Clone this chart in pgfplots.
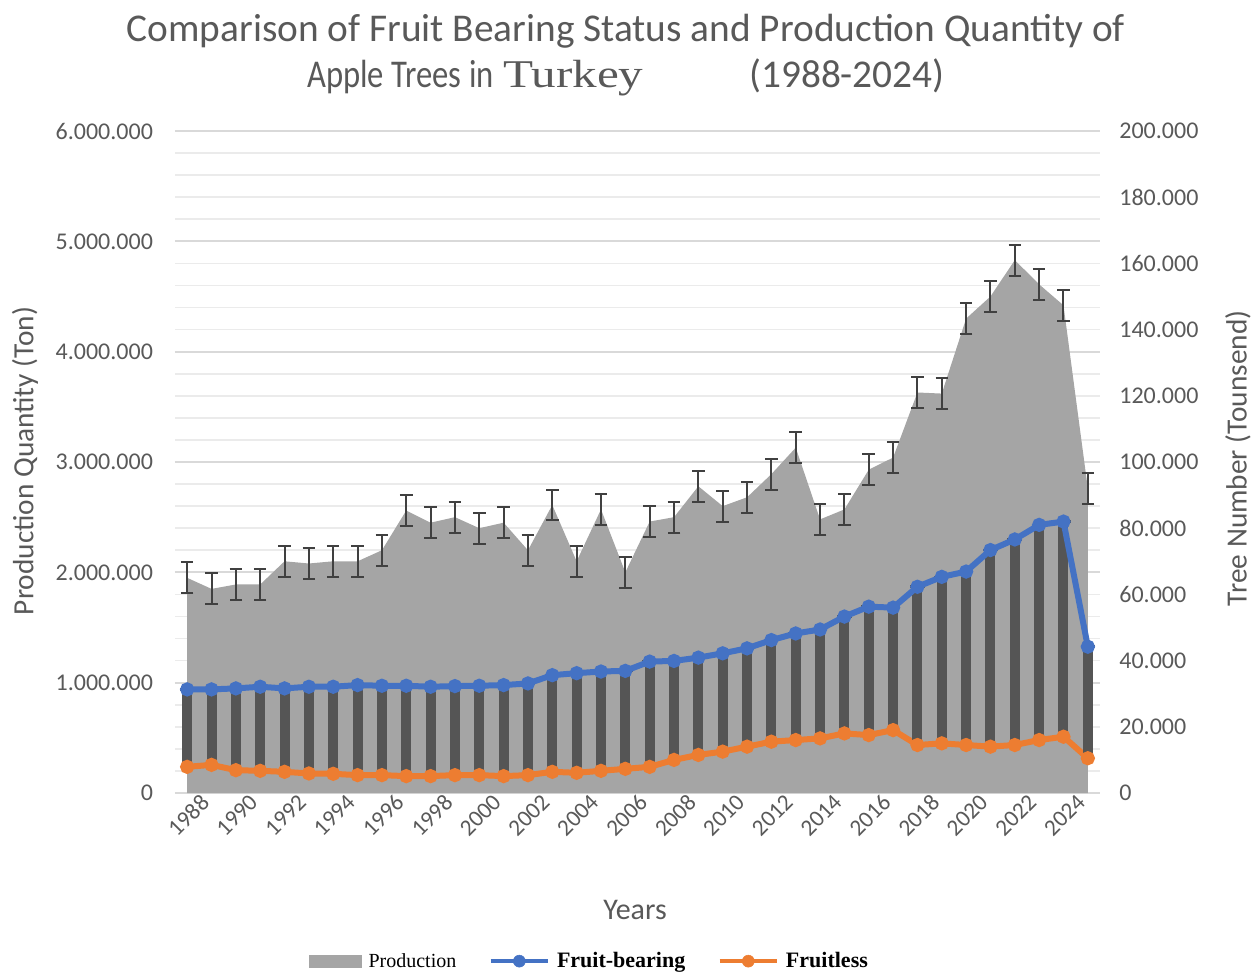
\documentclass[border=0pt]{standalone}
\usepackage{pgfplots}
\pgfplotsset{compat=1.18}
\usepackage{pgfplotstable}
\usepackage{fontspec}
\setmainfont{Carlito}
\newfontfamily\serif{Liberation Serif}
\definecolor{areagray}{HTML}{A5A5A5}
\definecolor{bardark}{HTML}{555555}
\definecolor{errgray}{HTML}{404040}
\definecolor{fbblue}{HTML}{4472C4}
\definecolor{florange}{HTML}{ED7D31}
\definecolor{txtgray}{HTML}{595959}
\definecolor{gridmaj}{HTML}{D9D9D9}
\definecolor{gridmin}{HTML}{EBEBEB}

\pgfplotstableread{
year prod err fb fl
1988 1950000 140000 31300 7900
1989 1850000 140000 31300 8500
1990 1890000 140000 31600 6900
1991 1890000 140000 32100 6700
1992 2100000 140000 31600 6400
1993 2080000 140000 32100 5900
1994 2100000 140000 32100 5800
1995 2100000 140000 32600 5400
1996 2200000 140000 32400 5400
1997 2560000 140000 32400 5100
1998 2450000 140000 32100 5100
1999 2500000 140000 32300 5400
2000 2400000 140000 32400 5400
2001 2450000 140000 32600 5100
2002 2200000 140000 33100 5400
2003 2610000 140000 35600 6400
2004 2100000 140000 36200 6100
2005 2570000 140000 36700 6700
2006 2000000 140000 36900 7300
2007 2460000 140000 39700 7900
2008 2500000 140000 39900 10000
2009 2780000 140000 40900 11500
2010 2600000 140000 42200 12500
2011 2680000 140000 43700 14000
2012 2890000 140000 46200 15500
2013 3130000 140000 48200 16000
2014 2480000 140000 49400 16500
2015 2570000 140000 53300 18000
2016 2930000 140000 56300 17500
2017 3040000 140000 56000 19000
2018 3630000 140000 62300 14500
2019 3620000 140000 65300 15000
2020 4300000 140000 66900 14500
2021 4500000 140000 73400 14000
2022 4830000 140000 76600 14500
2023 4610000 140000 81000 16000
2024 4420000 140000 82000 17000
2025 2760000 140000 44200 10500
}\datatable

\begin{document}
\begin{tikzpicture}
\pgfplotsset{
  common/.style={
    scale only axis, width=693.75pt, height=496.5pt,
    xmin=1987.5, xmax=2025.5,
    axis line style={draw=none},
    major tick length=0pt, minor tick length=0pt,
    tick label style={font=\fontsize{18}{20}\selectfont, text=txtgray},
    /pgf/number format/assume math mode=true,
    /pgf/number format/fixed,
    /pgf/number format/precision=0,
    /pgf/number format/1000 sep={.},
  }
}
\begin{axis}[common,
  ymin=0, ymax=6000000,
  ytick={0,1000000,2000000,3000000,4000000,5000000,6000000},
  minor y tick num=4,
  ymajorgrids, yminorgrids,
  major grid style={gridmaj, line width=1.5pt},
  minor grid style={gridmin, line width=1.2pt},
  yticklabel style={xshift=-13pt},
  xtick={1988,1990,1992,1994,1996,1998,2000,2002,2004,2006,2008,2010,2012,2014,2016,2018,2020,2022,2024},
  xticklabels={1988,1990,1992,1994,1996,1998,2000,2002,2004,2006,2008,2010,2012,2014,2016,2018,2020,2022,2024},
  x tick label style={rotate=45, anchor=north east, font=\fontsize{17.5}{19}\selectfont, xshift=10pt, yshift=-3pt},
  scaled y ticks=false,
]
\addplot[fill=areagray, draw=none] table[x=year, y=prod] {\datatable} \closedcycle;
\addplot[draw=none, mark=none,
  error bars/.cd, y dir=both, y explicit,
  error bar style={errgray, line width=1.5pt},
  error mark=-,
  error mark options={rotate=90, errgray, mark size=4.7pt, line width=1.5pt}]
  table[x=year, y=prod, y error=err] {\datatable};
\end{axis}
\begin{axis}[common,
  ymin=0, ymax=200000,
  ytick={0,20000,...,200000},
  axis y line*=right,
  axis x line=none,
  yticklabel style={xshift=11pt},
  scaled y ticks=false,
  legend columns=3,
  legend style={at={(0.4486,-0.254)}, anchor=center, draw=none, fill=none,
    font=\serif\bfseries\fontsize{16.5}{18}\selectfont,
    /tikz/every odd column/.append style={column sep=3pt},
    /tikz/every even column/.append style={column sep=22pt}},
]
\addlegendimage{legend image code/.code={\fill[areagray] (0pt,-4.5pt) rectangle (39pt,4.5pt);}}
\addlegendentry{\mdseries\fontsize{15}{17}\selectfont Production}
\addlegendimage{legend image code/.code={\draw[fbblue,line width=3.5pt] (0pt,0pt) -- (43pt,0pt); \fill[fbblue] (21.5pt,0pt) circle (4.5pt);}}
\addlegendentry{Fruit-bearing}
\addlegendimage{legend image code/.code={\draw[florange,line width=3.5pt] (0pt,0pt) -- (43pt,0pt); \fill[florange] (21.5pt,0pt) circle (4.5pt);}}
\addlegendentry{Fruitless}
\addplot[florange, line width=4.5pt, mark=*, mark size=3pt, forget plot] table[x=year, y=fl] {\datatable};
\addplot[draw=none, mark=none, forget plot,
  error bars/.cd, y dir=plus, y explicit,
  error bar style={bardark, line width=7.5pt},
  error mark=-,
  error mark options={rotate=90, bardark, mark size=5.5pt, line width=2pt}]
  table[x=year, y=fl, y error expr=\thisrow{fb}-\thisrow{fl}] {\datatable};
\addplot[fbblue, line width=4.5pt, mark=*, mark size=3pt, forget plot] table[x=year, y=fb] {\datatable};
\end{axis}
% titles and axis labels
\node[anchor=base, inner sep=0, text=txtgray, font=\fontsize{29.5}{32}\selectfont] at (338.25pt,563.25pt) {Comparison of Fruit Bearing Status and Production Quantity of};
\node[anchor=base west, inner sep=0, text=txtgray, font=\fontsize{29.5}{32}\selectfont] at (99pt,529pt) {\scalebox{0.83}[1]{Apple Trees in}};
\node[anchor=base west, inner sep=0, text=txtgray, font=\serif\fontsize{29.5}{32}\selectfont] at (246pt,529pt) {\scalebox{1.25}[1]{Turkey}};
\node[anchor=base west, inner sep=0, text=txtgray, font=\fontsize{29.5}{32}\selectfont] at (430.5pt,529pt) {(1988-2024)};
\node[rotate=90, text=txtgray, font=\fontsize{22}{24}\selectfont] at (-112.5pt,249pt) {Production Quantity (Ton)};
\node[rotate=90, text=txtgray, font=\fontsize{22}{24}\selectfont] at (797.25pt,251pt) {Tree Number (Tounsend)};
\node[text=txtgray, font=\fontsize{22.5}{24}\selectfont] at (345pt,-87.75pt) {Years};
\pgfresetboundingbox
\path (-131.25pt,-135.75pt) rectangle (810.75pt,594.75pt);
\end{tikzpicture}
\end{document}
